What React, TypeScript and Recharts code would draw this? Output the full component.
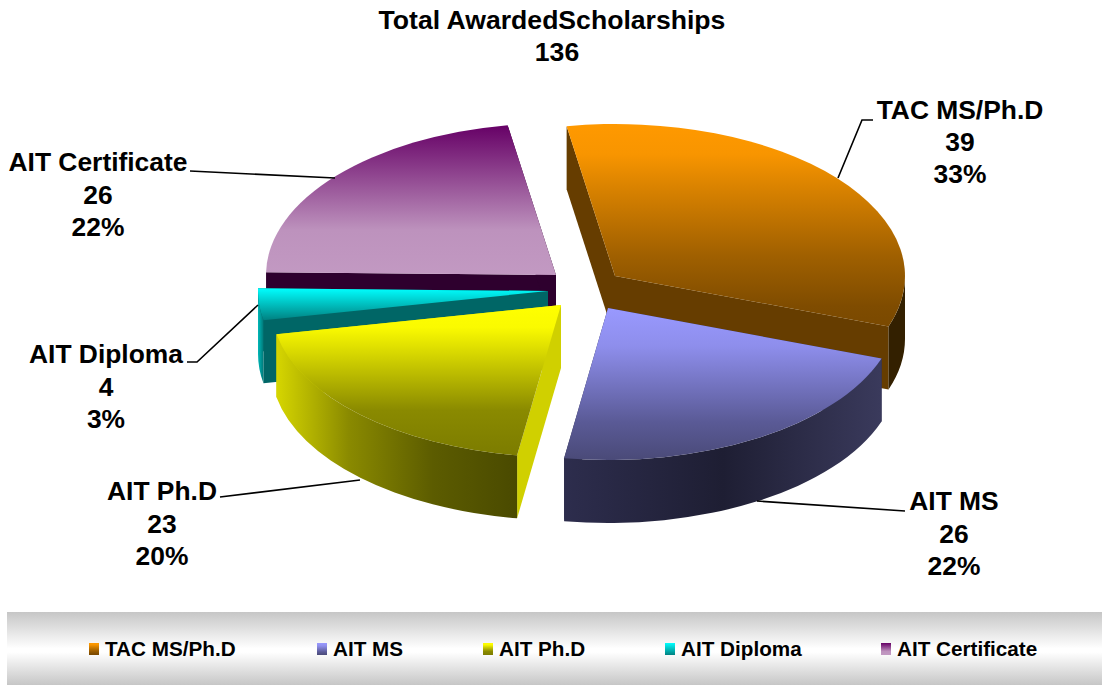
import React from "react";
import { PieChart, Pie, Legend } from "recharts";

const CATEGORIES = ["TAC MS/Ph.D", "AIT MS", "AIT Ph.D", "AIT Diploma", "AIT Certificate"];
const VALUES = [39, 26, 23, 4, 26];
const PERCENT_LABELS = ["33%", "22%", "20%", "3%", "22%"];
const TITLE_LINES = ["Total AwardedScholarships", "136"];

const tableData = CATEGORIES.map((name, i) => ({ name, value: VALUES[i] }));

// painter's order: back slices first
const DRAW_ORDER = [4, 3, 2, 0, 1];

const FONT = '"Liberation Sans", Arial, sans-serif';
const SQUASH = 152 / 290;
const DEPTH = 63;
const EXPLODE = [[35, -14], [28, 18], [-19, 15], [-32, 1], [-24, -15]];
const TOP_STOPS = [
  [["0%", "#ff9900"], ["15%", "#f89500"], ["30%", "#dc8400"], ["65%", "#a06000"], ["90%", "#7f4c00"], ["100%", "#7a4900"]],
  [["0%", "#9999ff"], ["25%", "#8e8eec"], ["75%", "#5a5a96"], ["100%", "#4a4a78"]],
  [["0%", "#ffff00"], ["15%", "#fafa00"], ["70%", "#8a8a00"], ["100%", "#7c7c00"]],
  [["0%", "#00ffff"], ["100%", "#008080"]],
  [["0%", "#660066"], ["70%", "#bd92bd"], ["100%", "#c299c2"]],
];
const RIM_STOPS = [
  [["0%", "#332000"], ["100%", "#332000"]],
  [["0%", "#2d2d4d"], ["50%", "#1e1e33"], ["100%", "#3a3a5c"]],
  [["0%", "#d6d600"], ["30%", "#8a8a00"], ["65%", "#5c5c00"], ["100%", "#4a4a00"]],
  [["0%", "#00b8b8"], ["100%", "#007878"]],
  [["0%", "#2e002e"], ["100%", "#2e002e"]],
];
const WALL_COLORS = ["#663d00", "#2d2d4d", "#d0d000", "#006666", "#2e002e"];
const LABEL_STYLE = [
  { x: 960, y: [119, 151, 183], line: "838,178 862,120 873,120" },
  { x: 954, y: [510, 543, 575], line: "757,501 905,511" },
  { x: 162, y: [500, 533, 565], line: "360,480 220,497" },
  { x: 106, y: [363, 396, 428], line: "258,305 197,362 187,362" },
  { x: 98, y: [171, 204, 236], line: "335,178 190,171" },
];
const LEGEND_SWATCH_X = [89, 317, 483, 665, 881];
const swatchCss = (stops: string[][]) =>
  `linear-gradient(to bottom, ${stops.map((s) => `${s[1]} ${s[0]}`).join(", ")})`;

function Slice(props: any) {
  const { cx, cy, outerRadius: rx, startAngle, endAngle, idx } = props;
  const ry = rx * SQUASH;
  const [dx, dy] = EXPLODE[idx];
  const ax = cx + dx;
  const ay = cy + dy;
  const pt = (deg: number) => {
    const r = (deg * Math.PI) / 180;
    return [ax + rx * Math.cos(r), ay - ry * Math.sin(r)];
  };
  const s = pt(startAngle);
  const e = pt(endAngle);
  const large = Math.abs(startAngle - endAngle) > 180 ? 1 : 0;
  const top = `M${ax},${ay} L${s[0]},${s[1]} A${rx},${ry} 0 ${large} 1 ${e[0]},${e[1]} Z`;
  // only the part of the rim on the near side of the ellipse can be seen
  const rimFrom = Math.min(startAngle, 0);
  const rimTo = Math.max(endAngle, -180);
  const rs = pt(rimFrom);
  const re = pt(rimTo);
  const rim =
    rimFrom > rimTo
      ? `M${rs[0]},${rs[1]} A${rx},${ry} 0 0 1 ${re[0]},${re[1]} L${re[0]},${re[1] + DEPTH} A${rx},${ry} 0 0 0 ${rs[0]},${rs[1] + DEPTH} Z`
      : "";
  const wall = (p: number[]) =>
    `M${ax},${ay} L${p[0]},${p[1]} L${p[0]},${p[1] + DEPTH} L${ax},${ay + DEPTH} Z`;
  return (
    <g>
      <path d={wall(s)} fill={WALL_COLORS[idx]} />
      <path d={wall(e)} fill={WALL_COLORS[idx]} />
      {rim && <path d={rim} fill={`url(#rim${idx})`} />}
      <path d={top} fill={`url(#top${idx})`} />
    </g>
  );
}

function SliceLabel(props: any) {
  const idx = CATEGORIES.indexOf(props.name);
  const st = LABEL_STYLE[idx];
  const lines = [props.name, String(props.value), PERCENT_LABELS[idx]];
  return (
    <g>
      <polyline points={st.line} fill="none" stroke="#000" strokeWidth={1.6} />
      {lines.map((t, i) => (
        <text key={i} x={st.x} y={st.y[i]} textAnchor="middle" fontFamily={FONT} fontWeight="bold" fontSize={26.4} fill="#000">
          {t}
        </text>
      ))}
    </g>
  );
}

function LegendBand() {
  return (
    <div style={{ position: "relative", width: 1095, height: 73, background: "linear-gradient(to bottom, #c6c6c6 0%, #ffffff 50%, #ffffff 55%, #c6c6c6 100%)" }}>
      {CATEGORIES.map((name, i) => (
        <React.Fragment key={name}>
          <div style={{ position: "absolute", left: LEGEND_SWATCH_X[i] - 7, top: 31, width: 10, height: 12, background: swatchCss(TOP_STOPS[i]) }} />
          <div style={{ position: "absolute", left: LEGEND_SWATCH_X[i] + 9, top: 24, lineHeight: "26px", whiteSpace: "nowrap", fontFamily: FONT, fontWeight: "bold", fontSize: 20.7, color: "#000" }}>
            {name}
          </div>
        </React.Fragment>
      ))}
    </div>
  );
}

export default function App() {
  return (
    <div style={{ position: "absolute", left: 0, top: 0, width: 1102, height: 685, overflow: "hidden", background: "#fff" }}>
      <PieChart width={1102} height={685} margin={{ top: 0, right: 0, bottom: 0, left: 0 }}>
        <defs>
          {TOP_STOPS.map((stops, i) => (
            <linearGradient key={i} id={`top${i}`} x1="0" y1="0" x2="0" y2="1">
              {stops.map((s, j) => <stop key={j} offset={s[0]} stopColor={s[1]} />)}
            </linearGradient>
          ))}
          {RIM_STOPS.map((stops, i) => (
            <linearGradient key={i} id={`rim${i}`} x1="0" y1="0" x2="1" y2="0">
              {stops.map((s, j) => <stop key={j} offset={s[0]} stopColor={s[1]} />)}
            </linearGradient>
          ))}
        </defs>
        {DRAW_ORDER.map((layer, n) => (
          <Pie
            key={layer}
            data={tableData}
            dataKey="value"
            nameKey="name"
            cx={580}
            cy={290}
            outerRadius={290}
            startAngle={99.6}
            endAngle={-260.4}
            stroke="none"
            isAnimationActive={false}
            legendType="none"
            labelLine={false}
            label={n === DRAW_ORDER.length - 1 ? SliceLabel : false}
            shape={(p: any) => {
              const idx = CATEGORIES.indexOf(p.name);
              return idx === layer ? <Slice {...p} idx={idx} /> : <g />;
            }}
          />
        ))}
        <text x={552} y={29} textAnchor="middle" fontFamily={FONT} fontWeight="bold" fontSize={26.6} fill="#000">{TITLE_LINES[0]}</text>
        <text x={557} y={61} textAnchor="middle" fontFamily={FONT} fontWeight="bold" fontSize={26.6} fill="#000">{TITLE_LINES[1]}</text>
        <Legend content={<LegendBand />} wrapperStyle={{ position: "absolute", left: 7, top: 612, width: 1095, height: 73, bottom: "auto" }} />
      </PieChart>
    </div>
  );
}
